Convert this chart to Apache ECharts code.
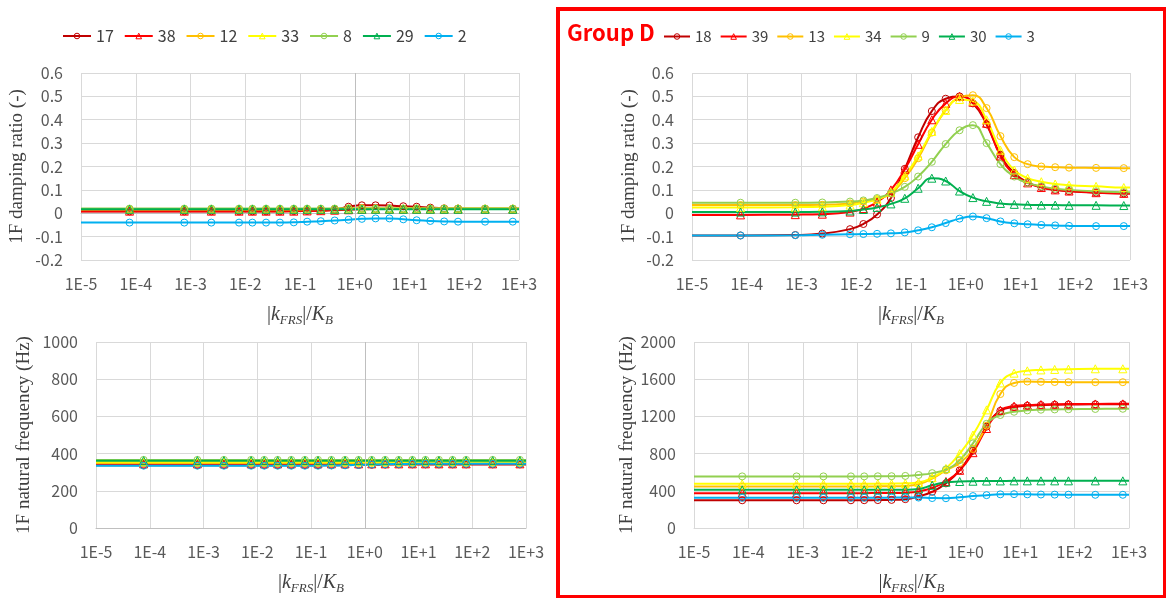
<!DOCTYPE html>
<html>
<head>
<meta charset="utf-8">
<title>1F damping ratio / natural frequency vs |kFRS|/KB</title>
<script src="https://cdn.jsdelivr.net/npm/echarts@6/dist/echarts.min.js"></script>
<style>
html,body{margin:0;padding:0;background:#fff;}
#main{width:1166px;height:598px;}
</style>
</head>
<body>
<div id="main"></div>
<script>
// |kFRS|/KB sample points (first and last only carry the line to the plot edges, no marker)
var xs = [1e-5, 7.7e-5, 7.7e-4, 2.4e-3, 7.7e-3, 1.35e-2, 2.4e-2, 4.3e-2, 7.7e-2, 0.135, 0.24, 0.43,
          0.77, 1.35, 2.4, 4.3, 7.7, 13.5, 24, 43, 77, 240, 770, 1000];

// left group
var namesL = ['17', '38', '12', '33', '8', '29', '2'];
var dampL17 = [0.008,0.008,0.008,0.008,0.008,0.008,0.008,0.008,0.009,0.010,0.012,0.016,0.028,0.034,0.034,0.033,0.030,0.028,0.024,0.021,0.020,0.019,0.019,0.019];
var dampL38 = [0.009,0.009,0.009,0.009,0.009,0.009,0.009,0.009,0.009,0.010,0.011,0.013,0.015,0.017,0.018,0.018,0.018,0.018,0.018,0.018,0.018,0.018,0.018,0.018];
var dampL12 = [0.016,0.016,0.016,0.016,0.016,0.016,0.016,0.016,0.016,0.017,0.018,0.019,0.021,0.022,0.021,0.020,0.020,0.020,0.020,0.020,0.020,0.020,0.020,0.020];
var dampL33 = [0.018,0.018,0.018,0.018,0.018,0.018,0.018,0.018,0.018,0.018,0.018,0.018,0.019,0.019,0.019,0.019,0.019,0.019,0.019,0.019,0.019,0.019,0.019,0.019];
var dampL8  = [0.020,0.020,0.020,0.020,0.020,0.020,0.020,0.020,0.020,0.020,0.020,0.020,0.020,0.020,0.020,0.020,0.020,0.020,0.020,0.020,0.020,0.020,0.020,0.020];
var dampL29 = [0.017,0.017,0.017,0.017,0.017,0.017,0.017,0.017,0.017,0.017,0.017,0.017,0.017,0.017,0.017,0.017,0.017,0.017,0.017,0.017,0.017,0.017,0.017,0.017];
var dampL2  = [-0.040,-0.040,-0.040,-0.040,-0.040,-0.040,-0.040,-0.040,-0.039,-0.036,-0.034,-0.031,-0.028,-0.024,-0.022,-0.022,-0.026,-0.030,-0.033,-0.035,-0.036,-0.036,-0.036,-0.036];

var freqL17 = [338,338,338,338,338,338,338,338,338,338,338,338,339,340,341,342,342,342,342,342,342,342,342,342];
var freqL38 = [345,345,345,345,345,345,345,345,345,345,345,345,345,345,345,345,345,345,345,345,345,345,345,345];
var freqL12 = [350,350,350,350,350,350,350,350,350,350,350,350,350,350,350,350,350,350,350,350,350,350,350,350];
var freqL33 = [356,356,356,356,356,356,356,356,356,356,356,356,356,356,356,356,356,356,356,356,356,356,356,356];
var freqL8  = [366,366,366,366,366,366,366,366,366,366,366,366,366,366,366,366,366,366,366,366,366,366,366,366];
var freqL29 = [362,362,362,362,362,362,362,362,362,362,362,362,362,362,362,362,362,362,362,362,362,362,362,362];
var freqL2  = [335,335,335,335,335,335,335,335,335,335,336,337,339,341,343,344,345,345,345,345,345,345,345,345];

// Group D
var namesR = ['18', '39', '13', '34', '9', '30', '3'];
var dampR18 = [-0.095,-0.095,-0.093,-0.087,-0.068,-0.046,-0.005,0.065,0.190,0.325,0.437,0.490,0.500,0.470,0.380,0.250,0.172,0.132,0.112,0.100,0.094,0.088,0.085,0.085];
var dampR39 = [-0.007,-0.007,-0.006,-0.004,0.005,0.020,0.048,0.100,0.188,0.295,0.400,0.470,0.500,0.475,0.385,0.245,0.165,0.130,0.110,0.100,0.095,0.088,0.085,0.085];
var dampR13 = [0.035,0.035,0.035,0.036,0.042,0.050,0.060,0.085,0.150,0.235,0.345,0.440,0.495,0.505,0.450,0.330,0.240,0.210,0.200,0.197,0.195,0.194,0.193,0.193];
var dampR34 = [0.025,0.025,0.026,0.028,0.035,0.045,0.060,0.090,0.160,0.245,0.350,0.440,0.487,0.480,0.400,0.270,0.185,0.150,0.135,0.125,0.120,0.115,0.110,0.110];
var dampR9  = [0.045,0.045,0.045,0.046,0.050,0.055,0.065,0.085,0.113,0.157,0.220,0.296,0.355,0.377,0.300,0.210,0.157,0.130,0.115,0.105,0.100,0.094,0.090,0.090];
var dampR30 = [0.005,0.005,0.005,0.006,0.010,0.016,0.025,0.040,0.064,0.107,0.150,0.138,0.095,0.067,0.051,0.042,0.038,0.036,0.035,0.035,0.034,0.034,0.033,0.033];
var dampR3  = [-0.095,-0.095,-0.094,-0.092,-0.090,-0.089,-0.088,-0.086,-0.082,-0.073,-0.060,-0.042,-0.023,-0.014,-0.021,-0.035,-0.043,-0.047,-0.050,-0.052,-0.054,-0.055,-0.055,-0.055];

var freqR18 = [298,298,298,298,298,299,300,302,310,340,390,480,620,830,1090,1260,1300,1315,1322,1326,1328,1330,1330,1330];
var freqR39 = [375,375,375,375,375,375,376,377,380,393,430,500,620,810,1070,1265,1310,1322,1327,1330,1332,1334,1335,1335];
var freqR13 = [447,447,447,447,447,447,448,449,452,470,530,620,700,850,1100,1440,1560,1575,1572,1570,1568,1568,1568,1568];
var freqR34 = [475,475,475,475,475,475,476,477,480,490,540,640,800,1000,1270,1560,1665,1690,1700,1705,1708,1712,1712,1712];
var freqR9  = [555,555,555,555,555,555,556,557,560,570,590,630,730,910,1120,1215,1250,1265,1272,1275,1277,1280,1282,1282];
var freqR30 = [410,410,410,410,410,410,410,411,412,420,460,492,500,503,505,506,507,507,507,507,507,507,507,507];
var freqR3  = [325,325,325,325,325,325,326,327,328,327,322,320,330,343,353,362,364,362,360,359,358,357,357,357];

var colors = ['#C00000', '#FF0000', '#FFC000', '#FFFF00', '#92D050', '#00B050', '#00B0F0'];
var symbols = ['circle', 'triangle', 'circle', 'triangle', 'circle', 'triangle', 'circle'];

var dampL = [dampL17, dampL38, dampL12, dampL33, dampL8, dampL29, dampL2];
var freqL = [freqL17, freqL38, freqL12, freqL33, freqL8, freqL29, freqL2];
var dampR = [dampR18, dampR39, dampR13, dampR34, dampR9, dampR30, dampR3];
var freqR = [freqR18, freqR39, freqR13, freqR34, freqR9, freqR30, freqR3];

var myChart = echarts.init(document.getElementById('main'));

function mkSeries(name, ys, k, axis) {
    return {
        name: name,
        type: 'line',
        xAxisIndex: axis,
        yAxisIndex: axis,
        smooth: true,
        symbol: symbols[k],
        symbolSize: symbols[k] === 'triangle' ? 8 : 7,
        showAllSymbol: true,
        lineStyle: { color: colors[k], width: 2 },
        itemStyle: { color: 'rgba(255,255,255,0)', borderColor: colors[k], borderWidth: 1 },
        emphasis: { disabled: true },
        data: xs.map(function (x, i) {
            var d = { value: [x, ys[i]] };
            if (i === 0 || i === xs.length - 1) d.symbol = 'none';
            return d;
        })
    };
}

var series = [];
for (var k = 0; k < 7; k++) {
    series.push(mkSeries(namesL[k], dampL[k], k, 0));
    series.push(mkSeries(namesL[k], freqL[k], k, 1));
    series.push(mkSeries(namesR[k], dampR[k], k, 2));
    series.push(mkSeries(namesR[k], freqR[k], k, 3));
}
// darker vertical axis line at 1E+0 on the left panels
series[0].markLine = { silent: true, symbol: 'none', label: { show: false },
    lineStyle: { color: '#BFBFBF', type: 'solid', width: 1 }, data: [{ xAxis: 1 }] };
series[1].markLine = { silent: true, symbol: 'none', label: { show: false },
    lineStyle: { color: '#BFBFBF', type: 'solid', width: 1 }, data: [{ xAxis: 1 }] };

var tickFont = { fontFamily: 'Noto Sans CJK JP', fontSize: 16, color: '#595959' };
var serif = 'Liberation Serif';

function xAx(gi, lineCol) {
    return {
        type: 'log', logBase: 10, gridIndex: gi, min: 1e-5, max: 1e3,
        axisTick: { show: false },
        axisLine: { lineStyle: { color: lineCol } },
        splitLine: { lineStyle: { color: '#D9D9D9' } },
        axisLabel: Object.assign({ margin: 16, formatter: function (v) {
            var e = Math.round(Math.log10(v));
            return '1E' + (e >= 0 ? '+' : '-') + Math.abs(e);
        } }, tickFont),
        name: '|{i|k}{s|FRS}|/{i|K}{s|B}',
        nameLocation: 'middle', nameGap: 42,
        nameTextStyle: {
            fontFamily: serif, fontSize: 20, color: '#404040',
            rich: {
                i: { fontFamily: serif, fontStyle: 'italic', fontSize: 20, color: '#404040' },
                s: { fontFamily: serif, fontStyle: 'italic', fontSize: 13, color: '#404040', padding: [12, 0, 0, 0] }
            }
        }
    };
}
function yAx(gi, mn, mx, iv, title, gap) {
    return {
        type: 'value', gridIndex: gi, min: mn, max: mx, interval: iv,
        axisLine: { show: false }, axisTick: { show: false },
        splitLine: { lineStyle: { color: '#D9D9D9' } },
        axisLabel: Object.assign({ margin: 18, formatter: function (v) { return String(+v.toFixed(1)); } }, tickFont),
        name: title, nameLocation: 'middle', nameGap: gap,
        nameTextStyle: { fontFamily: serif, fontSize: 19, color: '#404040' }
    };
}

var legendIcon = { color: 'rgba(255,255,255,0)', borderWidth: 1 };

myChart.setOption({
    animation: false,
    backgroundColor: '#ffffff',
    grid: [
        { left: 81, top: 73, width: 438, height: 187 },
        { left: 96, top: 342, width: 430, height: 186 },
        { left: 692, top: 73, width: 438, height: 187 },
        { left: 694, top: 342, width: 435, height: 186 }
    ],
    xAxis: [xAx(0, '#BFBFBF'), xAx(1, '#BFBFBF'), xAx(2, '#D9D9D9'), xAx(3, '#D9D9D9')],
    yAxis: [
        yAx(0, -0.2, 0.6, 0.1, '1F damping ratio (-)', 54),
        yAx(1, 0, 1000, 200, '1F natural frequency (Hz)', 62),
        yAx(2, -0.2, 0.6, 0.1, '1F damping ratio (-)', 53),
        yAx(3, 0, 2000, 400, '1F natural frequency (Hz)', 50)
    ],
    legend: [
        { data: namesL, left: 57, top: 23, itemWidth: 28, itemHeight: 7, itemGap: 10,
          itemStyle: legendIcon,
          textStyle: { fontFamily: 'Noto Sans CJK JP', fontSize: 16, color: '#404040' } },
        { data: namesR, left: 658, top: 24, itemWidth: 26, itemHeight: 7, itemGap: 8,
          itemStyle: legendIcon,
          textStyle: { fontFamily: 'Noto Sans CJK JP', fontSize: 15, color: '#404040' } }
    ],
    graphic: [
        { type: 'rect', shape: { x: 558, y: 9, width: 607, height: 588 },
          style: { fill: 'none', stroke: '#FF0000', lineWidth: 4 }, silent: true },
        { type: 'text', left: 567, top: 22,
          style: { text: 'Group D', fill: '#FF0000', fontFamily: 'Noto Sans CJK JP', fontWeight: 'bold', fontSize: 22 } }
    ],
    series: series
});
</script>
</body>
</html>
